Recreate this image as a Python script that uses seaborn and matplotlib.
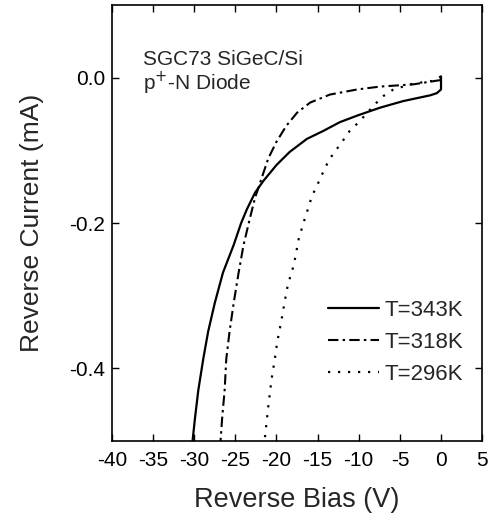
import numpy as np
import pandas as pd
import matplotlib
matplotlib.use("Agg")
import matplotlib.pyplot as plt
import seaborn as sns

# 역방향 I-V 데이터
bias_343 = [0.0, 0.0, -0.5, -1.3, -4.6, -7.4, -10.2, -12.3, -14.3, -16.3, -18.4, -20.0, -21.6,
            -22.6, -23.6, -24.3, -25.2, -26.5, -27.5, -28.3, -28.9, -29.5, -29.9, -30.2]
curr_343 = [0.002, -0.016, -0.021, -0.024, -0.032, -0.041, -0.052, -0.061, -0.073, -0.084, -0.102, -0.120, -0.142,
            -0.158, -0.181, -0.200, -0.230, -0.268, -0.310, -0.349, -0.387, -0.430, -0.468, -0.5]

bias_318 = [0.0, -0.6, -3.4, -7.4, -10.2, -13.5, -15.9, -17.5, -18.8, -20.0, -21.0, -21.8,
            -22.6, -23.2, -24.0, -24.6, -25.2, -25.7, -26.1, -26.3, -26.6, -26.8]
curr_318 = [-0.003, -0.004, -0.009, -0.012, -0.016, -0.023, -0.034, -0.048, -0.066, -0.088, -0.111, -0.138,
            -0.165, -0.192, -0.230, -0.268, -0.310, -0.349, -0.387, -0.430, -0.468, -0.5]

bias_296 = [0.0, -0.9, -3.4, -5.8, -7.0, -8.0, -10.0, -11.1, -11.9, -13.5, -14.1, -15.1, -15.7,
            -16.3, -16.7, -17.3, -17.9, -18.6, -19.0, -19.4, -19.9, -20.2, -20.6, -21.0, -21.45]
curr_296 = [0.002, -0.004, -0.008, -0.016, -0.025, -0.036, -0.061, -0.073, -0.086, -0.111, -0.124, -0.149, -0.163,
            -0.185, -0.199, -0.222, -0.258, -0.284, -0.308, -0.334, -0.363, -0.387, -0.415, -0.453, -0.5]

series_labels = ["T=343K", "T=318K", "T=296K"]
x_ticks = list(range(-40, 6, 5))
y_ticks = [0.0, -0.2, -0.4]

sns.set_style("ticks")
plt.rcParams['font.family'] = ['Liberation Sans', 'DejaVu Sans']
plt.rcParams['axes.unicode_minus'] = False

fig = plt.figure(figsize=(4.93, 5.19), dpi=100)
ax = fig.add_axes([0.227, 0.150, 0.751, 0.840])

sns.lineplot(x=bias_343, y=curr_343, sort=False, estimator=None, color='black',
             linewidth=1.6, linestyle='-', label=series_labels[0], ax=ax)
sns.lineplot(x=bias_318, y=curr_318, sort=False, estimator=None, color='black',
             linewidth=1.5, linestyle=(0, (5, 2, 1.2, 2)), label=series_labels[1], ax=ax)
sns.lineplot(x=bias_296, y=curr_296, sort=False, estimator=None, color='black',
             linewidth=1.6, linestyle=(0, (1, 3.5)), label=series_labels[2], ax=ax)

ax.set_xlim(-40, 5)
ax.set_ylim(-0.5, 0.1)
ax.set_xticks(x_ticks)
ax.set_xticklabels([str(v) for v in x_ticks])
ax.set_yticks(y_ticks)
ax.set_yticklabels([f"{v:.1f}" for v in y_ticks])
ax.tick_params(direction='in', top=True, right=True, length=5, width=1,
               labelsize=15, colors='black')
ax.tick_params(axis='x', pad=7)
ax.tick_params(axis='y', pad=5)
for sp in ax.spines.values():
    sp.set_linewidth(1.2)
    sp.set_color('black')

ax.set_xlabel('Reverse Bias (V)', fontsize=19.5, labelpad=12)
ax.set_ylabel('Reverse Current (mA)', fontsize=19, labelpad=18)

ax.text(-36.2, 0.025, 'SGC73 SiGeC/Si', fontsize=15, va='center')
ax.text(-36.2, -0.007, 'p$^{+}$-N Diode', fontsize=15, va='center')

ax.legend(frameon=False, loc='center right', bbox_to_anchor=(0.95, 0.227),
          fontsize=16, handlelength=2.3, handletextpad=0.25, labelspacing=0.5,
          borderaxespad=0, borderpad=0)

fig.savefig('out.png', dpi=100)
